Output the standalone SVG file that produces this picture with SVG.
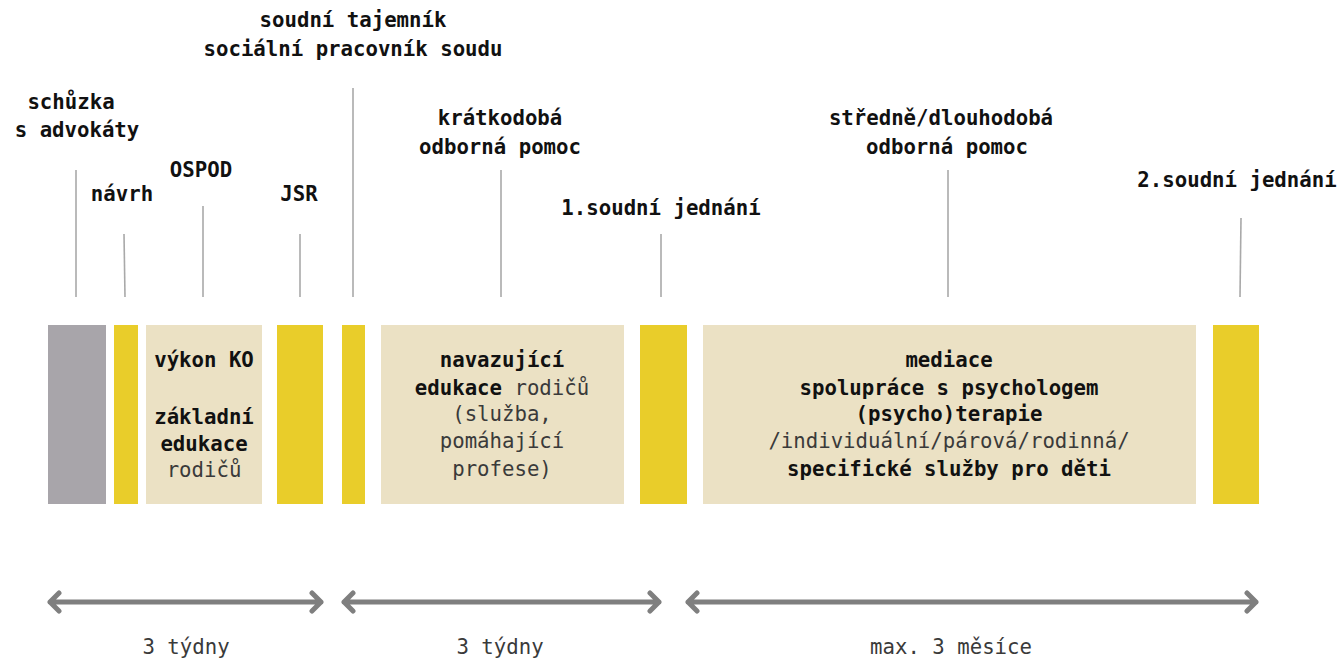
<svg xmlns="http://www.w3.org/2000/svg" width="1344" height="659" viewBox="0 0 1344 659">
<style>
.t{font-family:"DejaVu Sans Mono","Liberation Mono",monospace;font-size:20.7px;fill:#1a1a1a;text-anchor:middle}
.b{font-weight:bold;fill:#111}
.r{font-weight:normal;fill:#3a3a3a}
.tick{stroke:#a9a9a9;stroke-width:1.6;fill:none}
.arr{stroke:#7f7f7f;stroke-width:5;fill:none;stroke-linecap:round;stroke-linejoin:round}
.gray{fill:#a8a5aa}
.yel{fill:#e9cd2a}
.bei{fill:#ebe1c4}
</style>
<rect width="1344" height="659" fill="#ffffff"/>
<g id="labels">
<text class="t b" x="353" y="27">soudní tajemník</text>
<text class="t b" x="353" y="56">sociální pracovník soudu</text>
<text class="t b" x="71" y="109">schůzka</text>
<text class="t b" x="77" y="137">s advokáty</text>
<text class="t b" x="122" y="201">návrh</text>
<text class="t b" x="201" y="177">OSPOD</text>
<text class="t b" x="299" y="201">JSR</text>
<text class="t b" x="500" y="125">krátkodobá</text>
<text class="t b" x="500" y="154">odborná pomoc</text>
<text class="t b" x="661" y="215">1.soudní jednání</text>
<text class="t b" x="941" y="125">středně/dlouhodobá</text>
<text class="t b" x="947" y="154">odborná pomoc</text>
<text class="t b" x="1237" y="187">2.soudní jednání</text>
</g>
<g id="connectors">
<line class="tick" x1="76" y1="170" x2="76" y2="297"/>
<line class="tick" x1="124" y1="234" x2="125" y2="297"/>
<line class="tick" x1="203" y1="206" x2="203" y2="297"/>
<line class="tick" x1="300" y1="234" x2="300" y2="297"/>
<line class="tick" x1="353" y1="88" x2="353" y2="297"/>
<line class="tick" x1="501" y1="170" x2="501" y2="297"/>
<line class="tick" x1="661" y1="234" x2="661" y2="297"/>
<line class="tick" x1="948" y1="170" x2="948" y2="297"/>
<line class="tick" x1="1241" y1="218" x2="1240" y2="297"/>
<path class="arr" d="M50 602 H321 M59 593 L50 602 L59 611 M312 593 L321 602 L312 611"/>
<path class="arr" d="M344 602 H659 M353 593 L344 602 L353 611 M650 593 L659 602 L650 611"/>
<path class="arr" d="M688 602 H1256 M697 593 L688 602 L697 611 M1247 593 L1256 602 L1247 611"/>
</g>
<g id="n-gray"><rect class="gray" x="48" y="325" width="58" height="179"/></g>
<g id="n-y1"><rect class="yel" x="114" y="325" width="24" height="179"/></g>
<g id="n-ko">
<rect class="bei" x="146" y="325" width="116" height="179"/>
<text class="t b" x="204" y="367">výkon KO</text>
<text class="t b" x="204" y="424">základní</text>
<text class="t b" x="204" y="451">edukace</text>
<text class="t r" x="204" y="477">rodičů</text>
</g>
<g id="n-y2"><rect class="yel" x="277" y="325" width="46" height="179"/></g>
<g id="n-y3"><rect class="yel" x="342" y="325" width="23" height="179"/></g>
<g id="n-edu">
<rect class="bei" x="381" y="325" width="243" height="179"/>
<text class="t b" x="502" y="367">navazující</text>
<text class="t" x="502" y="395"><tspan class="b">edukace</tspan><tspan class="r"> rodičů</tspan></text>
<text class="t r" x="502" y="421">(služba,</text>
<text class="t r" x="502" y="448">pomáhající</text>
<text class="t r" x="502" y="476">profese)</text>
</g>
<g id="n-y4"><rect class="yel" x="640" y="325" width="47" height="179"/></g>
<g id="n-med">
<rect class="bei" x="703" y="325" width="493" height="179"/>
<text class="t b" x="949" y="367">mediace</text>
<text class="t b" x="949" y="395">spolupráce s psychologem</text>
<text class="t b" x="949" y="421">(psycho)terapie</text>
<text class="t r" x="949" y="448">/individuální/párová/rodinná/</text>
<text class="t b" x="949" y="476">specifické služby pro děti</text>
</g>
<g id="n-y5"><rect class="yel" x="1213" y="325" width="46" height="179"/></g>
<g id="durations">
<text class="t r" x="186" y="654">3 týdny</text>
<text class="t r" x="500" y="654">3 týdny</text>
<text class="t r" x="951" y="654">max. 3 měsíce</text>
</g>
</svg>
